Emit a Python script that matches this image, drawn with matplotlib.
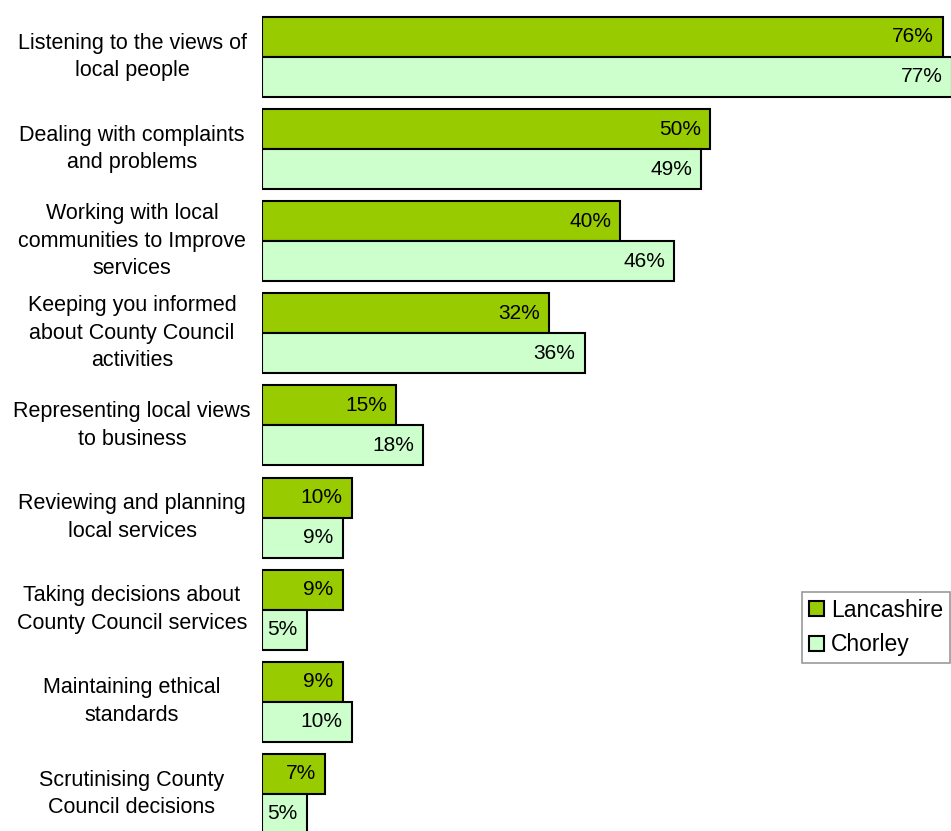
import matplotlib

matplotlib.use("Agg")
import matplotlib.pyplot as plt
import matplotlib.transforms as mtransforms
import numpy as np

plt.rcParams["font.family"] = ["Liberation Sans", "DejaVu Sans"]

CATEGORIES = [
    "Listening to the views of\nlocal people",
    "Dealing with complaints\nand problems",
    "Working with local\ncommunities to Improve\nservices",
    "Keeping you informed\nabout County Council\nactivities",
    "Representing local views\nto business",
    "Reviewing and planning\nlocal services",
    "Taking decisions about\nCounty Council services",
    "Maintaining ethical\nstandards",
    "Scrutinising County\nCouncil decisions",
]
LANCASHIRE = [76, 50, 40, 32, 15, 10, 9, 9, 7]
CHORLEY = [77, 49, 46, 36, 18, 9, 5, 10, 5]
SERIES = ["Lancashire", "Chorley"]

DARK = "#99CC00"
LIGHT = "#CCFFCC"
CAT_FS = 15.5
VAL_FS = 15
LEG_FS = 16.5

W, H = 951, 831
AX_LEFT = 262
fig = plt.figure(figsize=(W / 100, H / 100), dpi=100)
ax = fig.add_axes([AX_LEFT / W, 0, 1 - AX_LEFT / W, 1])
ax.set_axis_off()

pitch = 92.1          # px between group centres
first_center = 57     # px from top to first group centre
bh = 40 / pitch
y = np.arange(len(CATEGORIES))

b1 = ax.barh(y - bh / 2, LANCASHIRE, height=bh, color=DARK, edgecolor="black",
             lw=1.5, label=SERIES[0])
b2 = ax.barh(y + bh / 2, CHORLEY, height=bh, color=LIGHT, edgecolor="black",
             lw=1.5, label=SERIES[1])

px_per_pct = 8.96
ax.set_xlim(0, (W - AX_LEFT) / px_per_pct)
ax.set_ylim((H - first_center) / pitch, -first_center / pitch)

for bars, vals in ((b1, LANCASHIRE), (b2, CHORLEY)):
    for rect, v in zip(bars, vals):
        ax.annotate(f"{v}%", xy=(v, rect.get_y() + rect.get_height() / 2),
                    xytext=(-6.5, 0), textcoords="offset points",
                    ha="right", va="center", fontsize=VAL_FS, color="black",
                    annotation_clip=False)

# category labels: x in figure pixels, y in data
label_tr = mtransforms.blended_transform_factory(
    mtransforms.IdentityTransform(), ax.transData)
for yi, label in zip(y, CATEGORIES):
    ax.text(132, yi, label, transform=label_tr, ha="center", va="center",
            fontsize=CAT_FS, linespacing=1.4)

leg = fig.legend(handles=[b1, b2], labels=SERIES, loc="upper left",
                 bbox_to_anchor=(802 / W, 1 - 592 / H), fontsize=LEG_FS,
                 frameon=True, fancybox=False, edgecolor="#808080",
                 handlelength=0.65, handleheight=0.65, handletextpad=0.3,
                 borderpad=0.3, labelspacing=0.5, borderaxespad=0)
leg.get_frame().set_linewidth(1.2)

fig.savefig("out.png", dpi=100)
